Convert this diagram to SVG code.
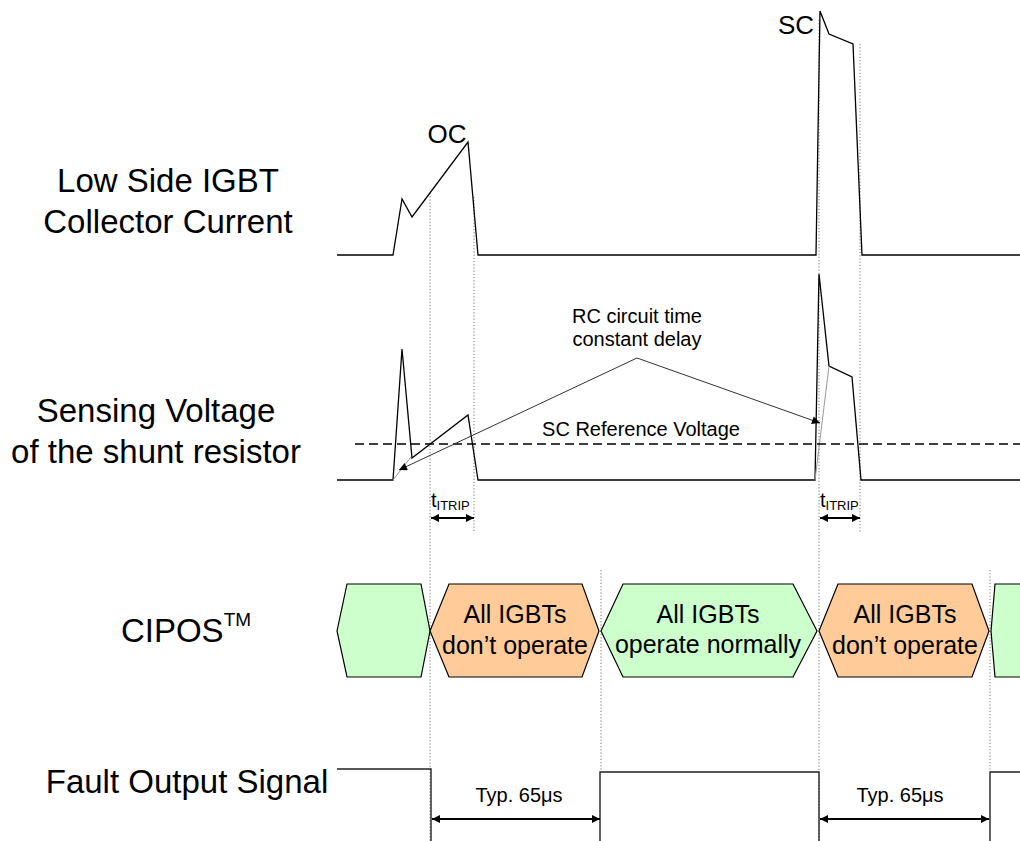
<svg xmlns="http://www.w3.org/2000/svg" width="1020" height="841" viewBox="0 0 1020 841">
<style>
text{font-family:"Liberation Sans",Arial,sans-serif;fill:#000}
.lbl{font-size:33px;text-anchor:middle}
.hx{font-size:25px;text-anchor:middle}
.sm{font-size:20px;text-anchor:middle}
.wave{fill:none;stroke:#000;stroke-width:1.3;stroke-linejoin:miter}
.dot{fill:none;stroke:#777;stroke-width:1;stroke-dasharray:1.2,2}
.faint{fill:none;stroke:#999;stroke-width:1}
.dash{fill:none;stroke:#000;stroke-width:1.5;stroke-dasharray:9,5}
.green{fill:#CCFFCC;stroke:#000;stroke-width:1.2}
.orange{fill:#FFCC99;stroke:#000;stroke-width:1.2}
.arr{fill:none;stroke:#000;stroke-width:2}
.thin{fill:none;stroke:#333;stroke-width:1}
.fo{fill:none;stroke:#222;stroke-width:1.4}
</style>
<defs>
<marker id="ah" viewBox="0 0 10 10" refX="10" refY="5" markerWidth="8" markerHeight="9" markerUnits="userSpaceOnUse" orient="auto-start-reverse">
<path d="M0,0 L10,5 L0,10 z" fill="#000"/>
</marker>
<marker id="ah2" viewBox="0 0 10 10" refX="10" refY="5" markerWidth="11" markerHeight="8" markerUnits="userSpaceOnUse" orient="auto">
<path d="M0,0 L10,5 L0,10 z" fill="#000"/>
</marker>
</defs>
<rect width="1020" height="841" fill="#fff"/>

<g id="labels">
<g id="label-current"><text class="lbl" x="168" y="192">Low Side IGBT</text><text class="lbl" x="168" y="233">Collector Current</text></g>
<g id="label-sensing"><text class="lbl" x="156" y="422">Sensing Voltage</text><text class="lbl" x="156" y="463">of the shunt resistor</text></g>
<g id="label-cipos"><text class="lbl" x="186" y="642">CIPOS<tspan font-size="19" dy="-16">TM</tspan></text></g>
<g id="label-fault"><text class="lbl" x="187" y="793">Fault Output Signal</text></g>
</g>

<g id="guides">
<line class="dot" x1="430" y1="193" x2="430" y2="841"/>
<line class="dot" x1="474" y1="197" x2="474" y2="533"/>
<line class="dot" x1="601" y1="570" x2="601" y2="771"/>
<line class="dot" x1="819" y1="20" x2="819" y2="841"/>
<line class="dot" x1="860" y1="44" x2="860" y2="533"/>
<line class="dot" x1="990" y1="570" x2="990" y2="771"/>
</g>

<g id="waveform-current">
<polyline class="wave" points="337,255 393,255 402,199 412,217 468,142 478,255 816,255 820,11 829,34 853,44 862,255 1020,255"/>
<text x="447" y="143" font-size="26" text-anchor="middle">OC</text>
<text x="796" y="34" font-size="26" text-anchor="middle">SC</text>
</g>

<g id="waveform-sensing">
<polyline class="wave" points="337,480 393,480 402,349 412,458 468,415 478,480 815,480 819,274 829,366 852,377 861,480 1020,480"/>
<line class="faint" x1="393" y1="480" x2="411" y2="457"/>
<line class="faint" x1="815" y1="480" x2="829" y2="366"/>
<line class="dash" x1="355" y1="444" x2="1020" y2="444"/>
<text class="sm" x="641" y="436">SC Reference Voltage</text>
</g>

<g id="rc-note">
<text class="sm" x="637" y="323">RC circuit time</text>
<text class="sm" x="637" y="346">constant delay</text>
</g>

<g id="titrip-1"><text x="431" y="507" font-size="20">t<tspan font-size="13" dy="3">ITRIP</tspan></text></g>
<g id="titrip-2"><text x="820" y="507" font-size="20">t<tspan font-size="13" dy="3">ITRIP</tspan></text></g>

<g id="state-green-1"><polygon class="green" points="337,631 347,584 421,584 430,631 421,677 347,677"/></g>
<g id="state-orange-1"><polygon class="orange" points="430,631 449,584 582,584 599,631 582,677 449,677"/>
<text class="hx" x="515" y="623">All IGBTs</text><text class="hx" x="515" y="654">don’t operate</text></g>
<g id="state-green-2"><polygon class="green" points="601,631 623,584 793,584 817,631 793,677 623,677"/>
<text class="hx" x="708" y="623">All IGBTs</text><text class="hx" x="708" y="653">operate normally</text></g>
<g id="state-orange-2"><polygon class="orange" points="819,631 838,584 972,584 989,631 972,677 838,677"/>
<text class="hx" x="905" y="623">All IGBTs</text><text class="hx" x="905" y="654">don’t operate</text></g>
<g id="state-green-3"><polygon class="green" points="991,631 995,584 1030,584 1030,677 995,677"/></g>

<g id="fault-signal">
<polyline class="fo" points="337,769 431,769 431,841"/>
<polyline class="fo" points="600,841 600,772 819,772 819,841"/>
<polyline class="fo" points="990,841 990,772 1020,772"/>
<text x="519" y="802" font-size="20" text-anchor="middle">Typ. 65μs</text>
<text x="900" y="802" font-size="20" text-anchor="middle">Typ. 65μs</text>
</g>

<g id="connectors">
<line class="thin" x1="637" y1="358" x2="399" y2="470" marker-end="url(#ah2)"/>
<line class="thin" x1="637" y1="358" x2="820" y2="423" marker-end="url(#ah2)"/>
<line class="arr" x1="431" y1="518" x2="474" y2="518" marker-start="url(#ah)" marker-end="url(#ah)"/>
<line class="arr" x1="820" y1="518" x2="860" y2="518" marker-start="url(#ah)" marker-end="url(#ah)"/>
<line class="arr" x1="432" y1="819" x2="600" y2="819" marker-start="url(#ah)" marker-end="url(#ah)"/>
<line class="arr" x1="820" y1="819" x2="989" y2="819" marker-start="url(#ah)" marker-end="url(#ah)"/>
</g>
</svg>
